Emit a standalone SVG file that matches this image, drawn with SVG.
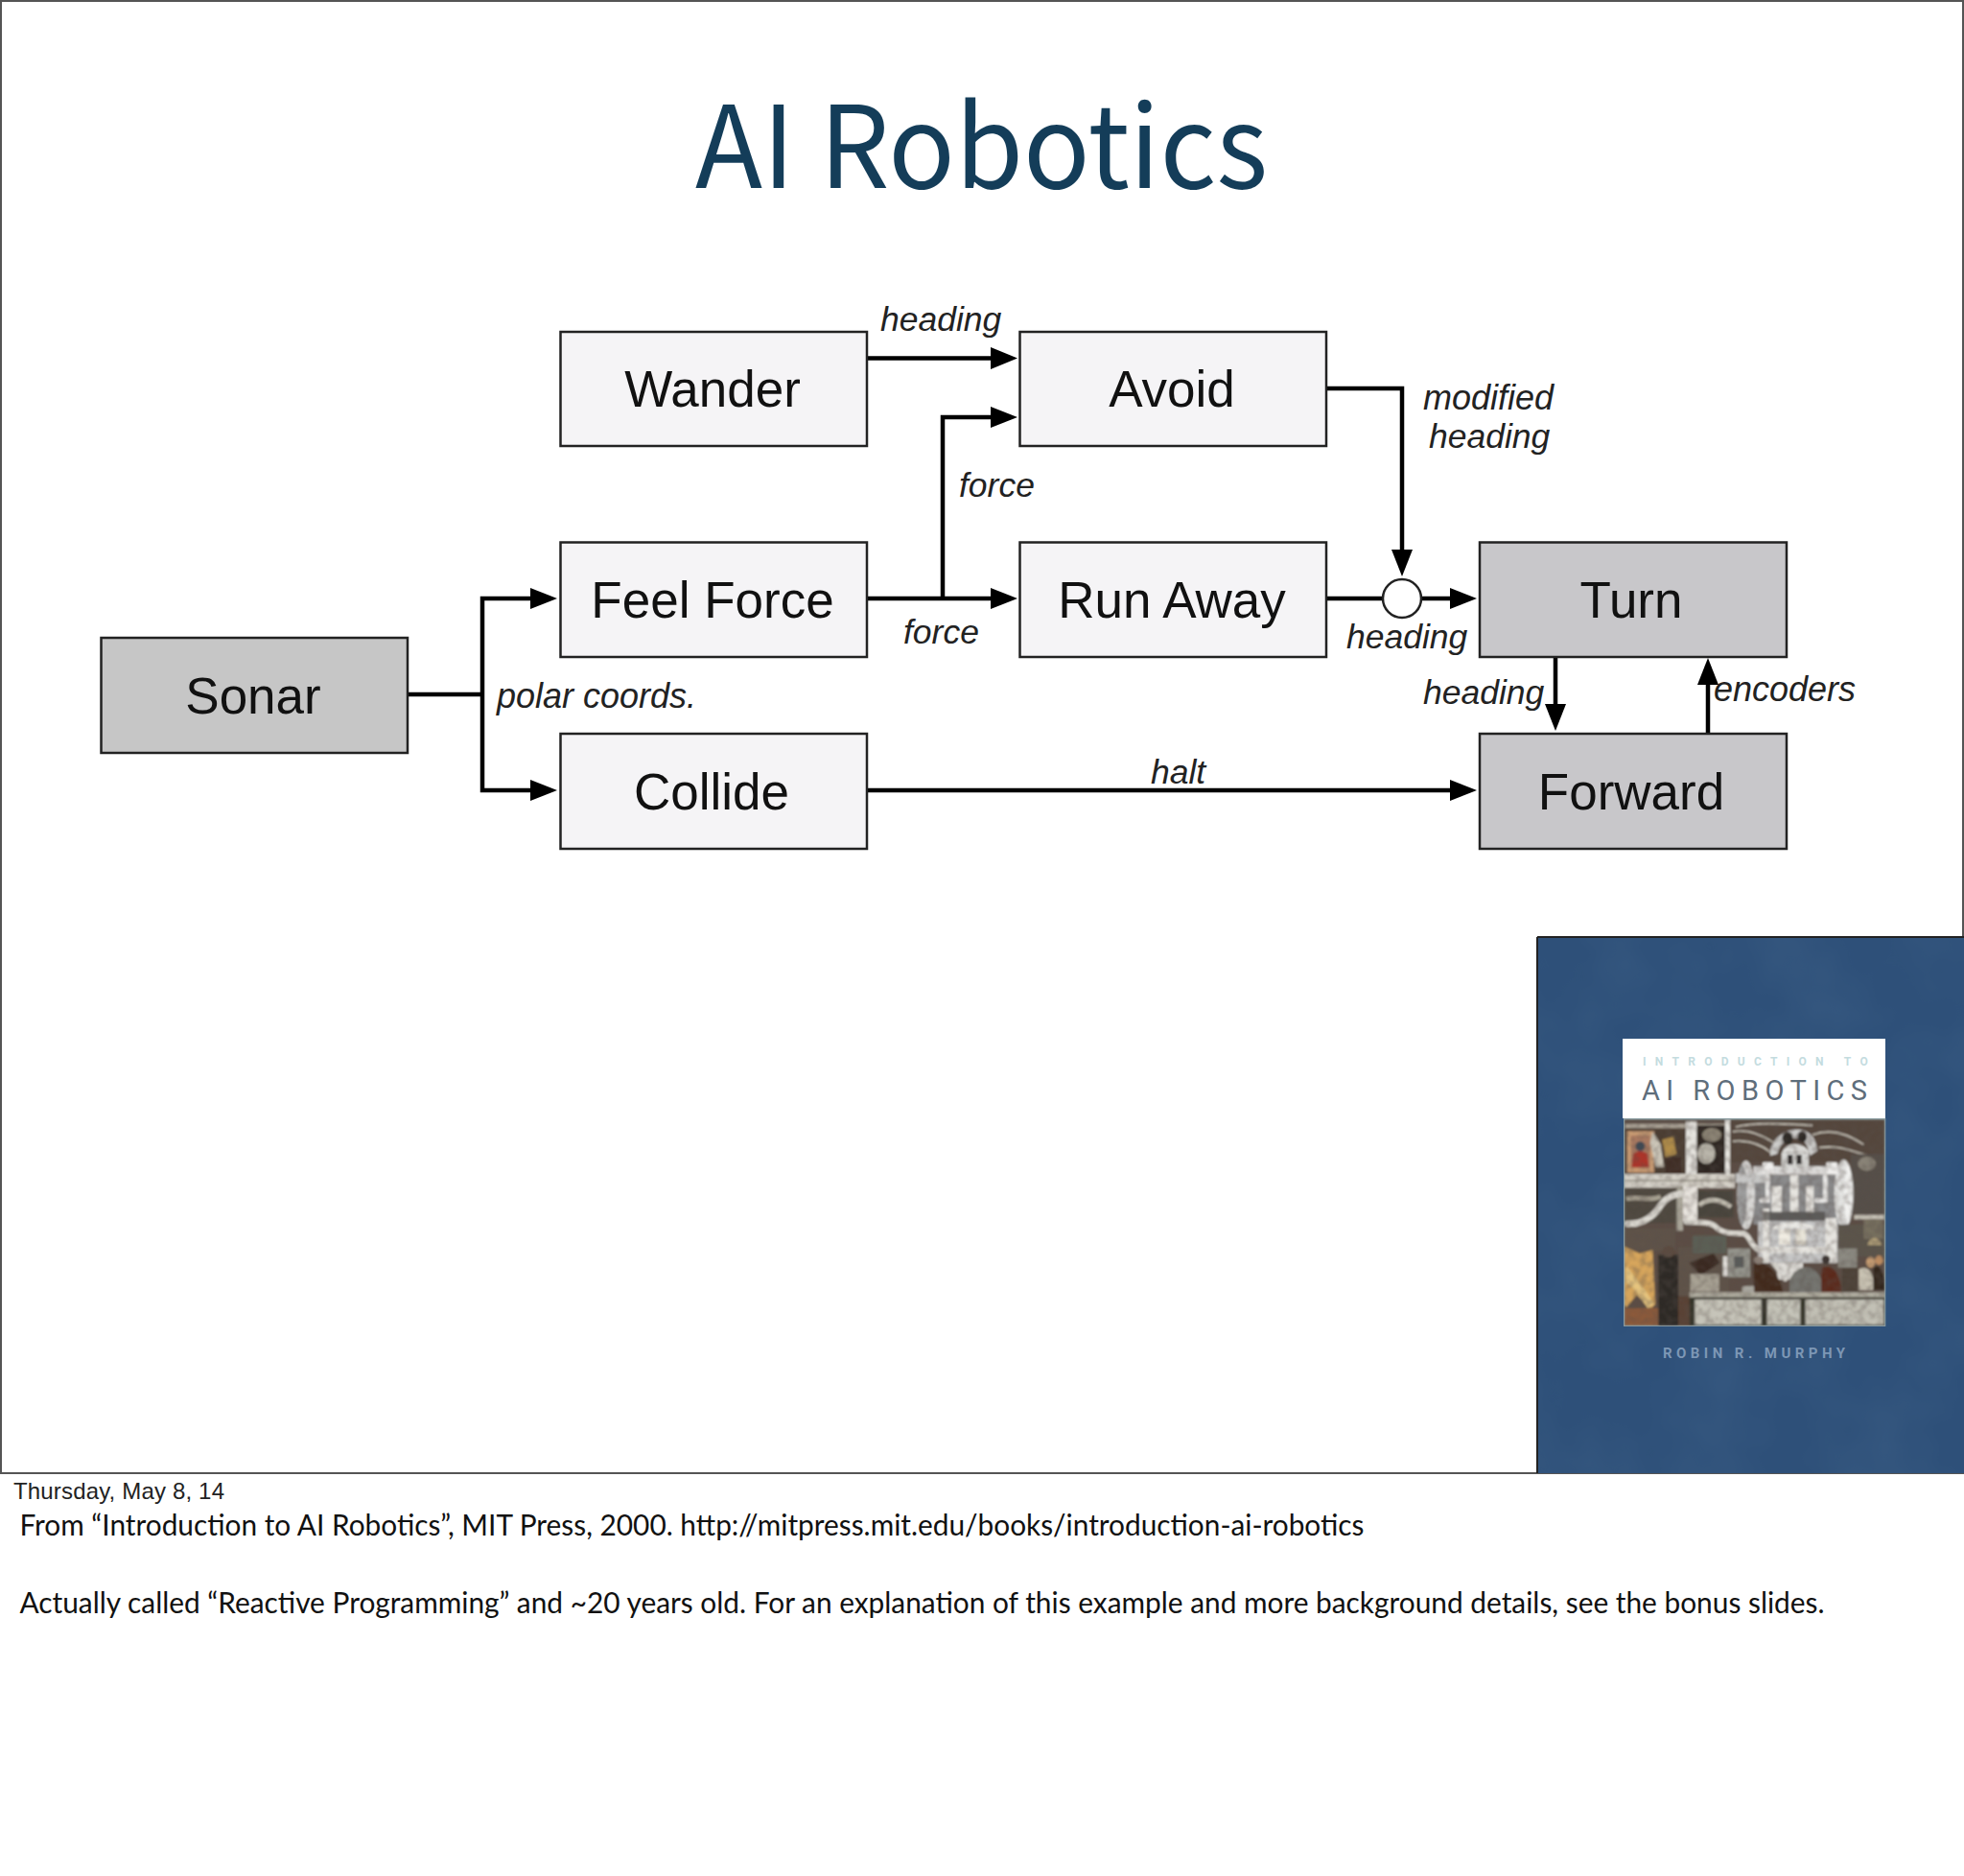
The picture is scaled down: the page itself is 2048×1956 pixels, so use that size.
<svg xmlns="http://www.w3.org/2000/svg" width="2048" height="1956" viewBox="0 0 2048 1956">
<style>
.box{stroke:#222;stroke-width:2.5}
.light{fill:#f5f4f6}
.dark{fill:#c8c7ca}
.nl{font:53px "Liberation Sans",Arial,sans-serif;fill:#111;text-anchor:middle}
.el{font:italic 35.500px "Liberation Sans",Arial,sans-serif;fill:#222}
.cn{fill:none;stroke:#000;stroke-width:4.500}
.ah{fill:#000;stroke:none}
.note{font:30.500px Lato,"Noto Sans",sans-serif;fill:#111}
.w{fill:#e6e4df}
.p{fill:none;stroke:#dcd9d2;stroke-linecap:round}
.l{fill:none;stroke:#c9c5ba;stroke-width:5}
</style>
<defs>
<filter id="b" x="-5%" y="-5%" width="110%" height="110%"><feGaussianBlur stdDeviation="2.600"/></filter>
<filter id="spk" x="0" y="0" width="100%" height="100%"><feTurbulence type="fractalNoise" baseFrequency="0.05" numOctaves="3" seed="7"/><feColorMatrix type="matrix" values="0 0 0 0 0.1  0 0 0 0 0.08  0 0 0 0 0.07  3.200 0 0 0 -1.300"/><feGaussianBlur stdDeviation="3"/></filter>
<filter id="cloud" x="0" y="0" width="100%" height="100%"><feTurbulence type="fractalNoise" baseFrequency="0.012" numOctaves="3" seed="3"/><feColorMatrix type="matrix" values="0 0 0 0 0.1  0 0 0 0 0.2  0 0 0 0 0.34  1.200 0 0 0 -0.350"/></filter>
<clipPath id="mc"><rect x="12" y="22" width="814" height="644"/></clipPath>
</defs>
<rect width="2048" height="1956" fill="#fff"/>
<path d="M1 1536V1H2047V980" fill="none" stroke="#555" stroke-width="2"/>
<path d="M0 1536H2048" stroke="#555" stroke-width="2"/>
<text x="725" y="196" font-family="'Noto Sans CJK SC','Noto Sans',sans-serif" font-size="119" fill="#143d59" textLength="597" lengthAdjust="spacingAndGlyphs">AI Robotics</text>

<g id="connectors">
<path class="cn" d="M900 373.500H1035"/><path class="ah" d="M1033 362L1061 373.500L1033 385Z"/>
<path class="cn" d="M900 624H1036M983 624V435H1036"/><path class="ah" d="M1033 424L1061 435L1033 446Z"/><path class="ah" d="M1033 613L1061 624L1033 635Z"/>
<path class="cn" d="M422 724H503M556 624H503V824H556"/><path class="ah" d="M553 613L581 624L553 635Z"/><path class="ah" d="M553 813L581 824L553 835Z"/>
<path class="cn" d="M904 824H1515"/><path class="ah" d="M1512 813L1540 824L1512 835Z"/>
<path class="cn" d="M1380 405H1462V576"/><path class="ah" d="M1451 573L1462 601L1473 573Z"/>
<path class="cn" d="M1383 624H1443M1481 624H1515"/><path class="ah" d="M1512 613L1540 624L1512 635Z"/>
<path class="cn" d="M1622 682V737"/><path class="ah" d="M1611 734L1622 762L1633 734Z"/>
<path class="cn" d="M1781 764V711"/><path class="ah" d="M1770 714L1781 686L1792 714Z"/>
</g>

<g id="sonar"><rect class="box" x="105.500" y="665" width="319.500" height="120" fill="#c6c6c6"/><text class="nl" x="264" y="743.500">Sonar</text></g>
<g id="wander"><rect class="box light" x="584.500" y="346" width="319.500" height="119"/><text class="nl" x="743" y="424">Wander</text></g>
<g id="avoid"><rect class="box light" x="1063.500" y="346" width="319.500" height="119"/><text class="nl" x="1222" y="424">Avoid</text></g>
<g id="feel-force"><rect class="box light" x="584.500" y="565.500" width="319.500" height="119.500"/><text class="nl" x="743" y="644">Feel Force</text></g>
<g id="run-away"><rect class="box light" x="1063.500" y="565.500" width="319.500" height="119.500"/><text class="nl" x="1222" y="644">Run Away</text></g>
<g id="collide"><rect class="box light" x="584.500" y="765" width="319.500" height="120"/><text class="nl" x="742" y="843.500">Collide</text></g>
<g id="turn"><rect class="box dark" x="1543" y="565.500" width="320" height="119.500"/><text class="nl" x="1701" y="644">Turn</text></g>
<g id="forward"><rect class="box dark" x="1543" y="765" width="320" height="120"/><text class="nl" x="1701" y="843.500">Forward</text></g>
<g id="junction"><circle cx="1462" cy="624" r="20" fill="#fff" stroke="#222" stroke-width="2.500"/></g>

<g id="labels">
<text class="el" x="918" y="345">heading</text>
<text class="el" x="1000" y="517.500">force</text>
<text class="el" x="942" y="670.500">force</text>
<text class="el" x="518" y="738" style="font-size:36px">polar coords.</text>
<text class="el" x="1200" y="817">halt</text>
<text class="el" x="1484" y="426.500" style="font-size:36px">modified</text>
<text class="el" x="1490" y="466.500">heading</text>
<text class="el" x="1404" y="676">heading</text>
<text class="el" x="1484" y="734">heading</text>
<text class="el" x="1787" y="731" style="font-size:36px">encoders</text>
</g>

<g id="book">
<rect x="1603" y="977" width="445" height="559" fill="#2e5079"/>
<rect x="1603" y="977" width="445" height="559" filter="url(#cloud)" opacity=".22"/>
<path d="M1603 977H2048M1603 977V1536" fill="none" stroke="#222" stroke-width="2"/>
<rect x="1692" y="1083" width="274" height="83" fill="#fff"/>
<text x="1713" y="1111" font-family="Roboto,sans-serif" font-size="12" fill="#c4dcdf" letter-spacing="9.300" font-weight="700">INTRODUCTION TO</text>
<text x="1712" y="1147" font-family="Roboto,'Liberation Sans',sans-serif" font-size="29" fill="#5f6e7b" textLength="235" lengthAdjust="spacing">AI ROBOTICS</text>
<text x="1734" y="1416" font-family="Roboto,'Liberation Sans',sans-serif" font-weight="700" font-size="15" fill="#7d97b5" textLength="190" lengthAdjust="spacing">ROBIN R. MURPHY</text>

<g id="mural" transform="translate(1690 1160) scale(.3333)">
<rect x="9" y="18" width="820" height="651" fill="#8b9ca0"/>
<g clip-path="url(#mc)">
<g filter="url(#b)">
<rect x="12" y="22" width="814" height="644" fill="#5b4d44"/>
<rect x="345" y="25" width="480" height="130" fill="#54463c"/>
<path class="l" d="M350 60C400 50 440 70 480 95M350 90C400 85 440 100 470 125M600 70C650 50 700 60 760 100M620 110C680 100 720 120 790 140M360 45C420 30 500 35 600 40"/>
<rect x="720" y="130" width="105" height="190" fill="#57504a"/>
<ellipse cx="770" cy="160" rx="28" ry="22" fill="#8a8478"/>
<rect x="15" y="35" width="318" height="157" fill="#4c3d33"/>
<rect x="15" y="35" width="318" height="14" fill="#a9a194"/>
<rect x="20" y="58" width="85" height="130" fill="#c99b73"/>
<rect x="32" y="72" width="60" height="100" fill="#a87960"/>
<path d="M34 172L40 128L60 118L84 128L88 172Z" fill="#ad352c"/>
<ellipse cx="61" cy="106" rx="15" ry="15" fill="#3c4a55"/>
<path d="M100 60L125 100L135 170L110 170L92 95Z" fill="#cfc9bb"/>
<path d="M130 85L165 75L175 130L140 140Z" fill="#b08c4a"/>
<rect x="140" y="140" width="50" height="50" fill="#3f2f28"/>
<rect x="238" y="40" width="88" height="150" fill="#2e2823"/>
<ellipse cx="268" cy="128" rx="28" ry="32" fill="#b9b5aa"/>
<ellipse cx="285" cy="70" rx="30" ry="22" fill="#8c8475"/>
<rect class="w" x="204" y="28" width="34" height="165"/>
<rect class="w" x="327" y="22" width="15" height="170"/>
<rect x="12" y="192" width="345" height="44" fill="#d6d2c9"/>
<rect x="12" y="210" width="345" height="5" fill="#9d988c"/>
<rect x="12" y="236" width="185" height="110" fill="#4f4840"/>
<path d="M18 270C60 260 90 280 125 262" stroke="#a7a192" stroke-width="14" fill="none"/>
<rect x="238" y="244" width="115" height="84" fill="#4a453e"/>
<path d="M245 290C275 265 310 270 345 295" stroke="#c4c0b3" stroke-width="14" fill="none"/>
<rect x="195" y="232" width="45" height="108" fill="#e8e4de"/>
<rect x="175" y="230" width="20" height="140" fill="#a9a599"/>
<path class="p" stroke-width="20" d="M22 348C75 350 105 322 125 290C140 268 160 256 190 254"/>
<path class="p" stroke-width="16" d="M205 342C240 345 278 340 295 355C315 378 350 378 385 378C405 385 400 405 425 425C460 445 490 480 515 520"/>
<rect x="12" y="362" width="160" height="70" fill="#5e5349"/>
<rect x="180" y="420" width="160" height="155" fill="#5e5248"/>
<rect x="225" y="385" width="105" height="55" fill="#5b6156"/>
<path d="M215 470L290 440L310 470L250 510Z" fill="#3b2a24"/>
<rect x="218" y="505" width="90" height="55" fill="#a8a294"/>
<path d="M12 420L60 440L100 430L108 600L95 612L50 570L18 610L12 600Z" fill="#d6a55c"/>
<path d="M18 480L80 560L105 600L85 612L40 550L15 530Z" fill="#e6c47e"/>
<rect x="12" y="612" width="105" height="54" fill="#8c5a3a"/>
<rect x="118" y="445" width="62" height="222" fill="#2d2926"/>
<ellipse cx="150" cy="435" rx="20" ry="18" fill="#5b4b40"/>
<rect x="180" y="575" width="40" height="92" fill="#5a4234"/>
<rect x="335" y="425" width="70" height="90" fill="#95958d"/>
<rect x="355" y="450" width="30" height="35" fill="#5a5c5a"/>
<rect class="w" x="320" y="450" width="14" height="62"/>
<rect x="415" y="195" width="270" height="155" fill="#8b8b8c"/>
<rect x="430" y="340" width="250" height="130" fill="#c6c6c6"/>
<path d="M470 365C490 335 590 335 615 365Z" fill="#ebeae6"/>
<rect x="495" y="366" width="35" height="48" fill="#f0ece2"/>
<rect x="547" y="366" width="33" height="48" fill="#e8e4d8"/>
<rect class="w" x="430" y="420" width="245" height="20"/>
<rect class="w" x="445" y="300" width="20" height="170"/>
<rect class="w" x="640" y="330" width="35" height="140"/>
<ellipse cx="392" cy="258" rx="28" ry="108" fill="#d9d8d6"/>
<ellipse cx="380" cy="258" rx="15" ry="95" fill="#9d9d9d"/>
<ellipse cx="698" cy="255" rx="30" ry="108" fill="#e2e2e0"/>
<ellipse cx="712" cy="255" rx="12" ry="90" fill="#f2f2f0"/>
<rect x="360" y="190" width="100" height="30" fill="#c7c7c6"/>
<rect x="415" y="168" width="265" height="26" fill="#dddcda"/>
<rect x="444" y="155" width="34" height="38" fill="#f2f1ef" rx="5"/>
<rect x="643" y="155" width="36" height="38" fill="#f0efed" rx="5"/>
<path d="M468 135C460 50 610 10 615 120L592 135L585 110C570 60 500 75 490 130Z" fill="#cfcfcd"/>
<ellipse cx="522" cy="80" rx="17" ry="20" fill="#2d2a27"/>
<ellipse cx="568" cy="76" rx="15" ry="18" fill="#2d2a27"/>
<path d="M505 125C515 90 575 90 590 125Z" fill="#e2e2df"/>
<rect x="503" y="125" width="85" height="45" fill="#d8d8d5"/>
<rect x="522" y="132" width="16" height="30" fill="#2f2c29"/>
<rect x="550" y="132" width="16" height="30" fill="#2f2c29"/>
<path class="p" stroke-width="14" style="stroke:#e9e8e6" d="M460 200V275H440M640 200V275H612"/>
<rect class="w" x="472" y="230" width="32" height="84"/>
<rect class="w" x="530" y="195" width="26" height="115"/>
<rect class="w" x="580" y="230" width="24" height="84"/>
<rect x="445" y="310" width="195" height="28" fill="#4a4845" opacity=".7"/>
<rect x="490" y="470" width="80" height="52" fill="#dfddd8"/>
<path d="M528 525C550 470 610 470 628 525V565H528Z" fill="#75746f"/>
<path d="M380 545C420 535 500 555 520 570H380Z" fill="#a8a69e"/>
<path d="M415 470C460 460 500 510 508 565H418Z" fill="#43291f"/>
<ellipse cx="432" cy="462" rx="16" ry="12" fill="#8d8178"/>
<path d="M628 488C650 472 682 480 692 565H628Z" fill="#5c2c1f"/>
<ellipse cx="642" cy="460" rx="13" ry="14" fill="#3d3530"/>
<rect x="692" y="470" width="50" height="95" fill="#4e4239"/>
<rect x="680" y="350" width="145" height="100" fill="#5b544b"/>
<rect x="730" y="320" width="95" height="14" fill="#c4c0b5"/>
<rect x="760" y="335" width="60" height="60" fill="#77705f"/>
<path d="M772 415C778 385 810 385 816 415Z" fill="#b09f78"/>
<rect x="680" y="425" width="60" height="60" fill="#8c8a82"/>
<path d="M745 490C770 478 790 490 795 555H745Z" fill="#c9c3b3"/>
<path d="M790 490C800 470 825 480 826 555H790Z" fill="#33261f"/>
<ellipse cx="782" cy="468" rx="14" ry="17" fill="#c59b72"/>
<ellipse cx="808" cy="462" rx="13" ry="15" fill="#bd8d62"/>
<rect x="215" y="562" width="611" height="18" fill="#b0ada0"/>
<rect x="215" y="578" width="611" height="88" fill="#35352a"/>
<rect x="232" y="585" width="208" height="78" fill="#c6c4b9"/>
<rect x="458" y="585" width="104" height="78" fill="#c5c4b9"/>
<rect x="578" y="585" width="244" height="78" fill="#c2c0b5"/>
</g>
<rect x="12" y="22" width="814" height="644" filter="url(#spk)" opacity=".32"/>
</g>
</g>
</g>

<text x="14" y="1563" font-family="'Liberation Sans',Arial,sans-serif" font-size="24" fill="#222" textLength="220">Thursday, May 8, 14</text>
<text class="note" x="20.500" y="1601" textLength="1402" lengthAdjust="spacingAndGlyphs">From “Introduction to AI Robotics”, MIT Press, 2000. http://mitpress.mit.edu/books/introduction-ai-robotics</text>
<text class="note" x="20.500" y="1682" textLength="1882" lengthAdjust="spacingAndGlyphs">Actually called “Reactive Programming” and ~20 years old. For an explanation of this example and more background details, see the bonus slides.</text>
</svg>
